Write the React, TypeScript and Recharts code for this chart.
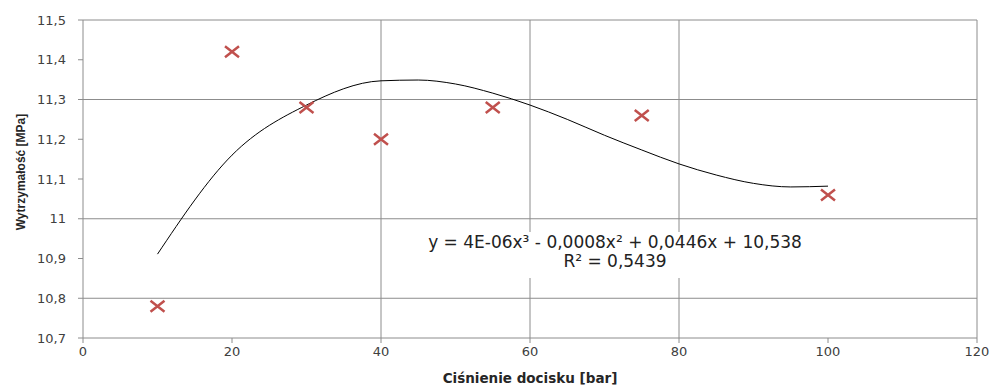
import { ComposedChart, Scatter, Line, XAxis, YAxis, ReferenceLine } from 'recharts';

// measured points (pressure [bar] vs strength [MPa])
const pressure = [10, 20, 30, 40, 55, 75, 100];
const strength = [10.78, 11.42, 11.28, 11.2, 11.28, 11.26, 11.06];

// trendline
const trendX = [10, 20, 30, 40, 45, 50, 55, 60, 65, 70, 75, 80, 85, 90, 95, 100];
const trendY = [10.911, 11.16, 11.286, 11.347, 11.349, 11.339, 11.316, 11.286, 11.25, 11.21, 11.173, 11.138, 11.11, 11.089, 11.08, 11.082];

const xTicks = [0, 20, 40, 60, 80, 100, 120];
const yTicks = [10.7, 10.8, 10.9, 11, 11.1, 11.2, 11.3, 11.4, 11.5];
const xGrid = [40, 60, 80, 120];
const yGrid = [10.8, 11, 11.3, 11.5];

const points = pressure.map((x, i) => ({ x, y: strength[i] }));
const trend = trendX.map((x, i) => ({ x, t: trendY[i] }));

const GRID = '#8c8c8c';
const FONT = '"DejaVu Sans", Verdana, sans-serif';

const fmt = (v: number) => String(v).replace('.', ',');

const Cross = (props: any) => {
  const { cx, cy } = props;
  if (cx == null || cy == null) return null;
  return (
    <path
      d={`M${cx - 7},${cy - 5.5}L${cx + 7},${cy + 5.5}M${cx - 7},${cy + 5.5}L${cx + 7},${cy - 5.5}`}
      stroke="#c0504d"
      strokeWidth={2.5}
      fill="none"
    />
  );
};

export default function App() {
  return (
    <div style={{ position: 'absolute', left: 0, top: 0, width: 991, height: 385, background: '#fff' }}>
      <ComposedChart width={991} height={385} margin={{ top: 20, right: 14, bottom: 0, left: 0 }}>
        <XAxis
          type="number"
          dataKey="x"
          domain={[0, 120]}
          ticks={xTicks}
          allowDataOverflow
          stroke={GRID}
          tickSize={5}
          tickMargin={4}
          height={47}
          tick={{ fill: '#404040', fontSize: 13, fontFamily: FONT }}
          label={{
            value: 'Ciśnienie docisku [bar]',
            position: 'insideBottom',
            offset: 2,
            fill: '#262626',
            fontSize: 13.5,
            fontWeight: 'bold',
            fontFamily: FONT,
          }}
        />
        <YAxis
          type="number"
          domain={[10.7, 11.5]}
          ticks={yTicks}
          allowDataOverflow
          stroke={GRID}
          tickSize={5}
          tickMargin={12}
          width={83}
          tickFormatter={fmt}
          tick={{ fill: '#404040', fontSize: 13, fontFamily: FONT }}
          label={{
            content: () => (
              <text
                x={25}
                y={172}
                transform="rotate(-90 25 172)"
                textAnchor="middle"
                fill="#262626"
                fontSize={12}
                fontWeight="bold"
                fontFamily='"Liberation Sans Narrow", "Liberation Sans", Arial, sans-serif'
              >
                Wytrzymałość [MPa]
              </text>
            ),
          }}
        />
        {yGrid.map((v) => (
          <ReferenceLine key={'h' + v} y={v} stroke={GRID} strokeWidth={1} />
        ))}
        {xGrid.map((v) => (
          <ReferenceLine key={'v' + v} x={v} stroke={GRID} strokeWidth={1} />
        ))}
        <Line
          data={trend}
          dataKey="t"
          type="monotone"
          stroke="#000"
          strokeWidth={1}
          dot={false}
          activeDot={false}
          isAnimationActive={false}
        />
        <Scatter data={points} dataKey="y" shape={<Cross />} isAnimationActive={false} />
      </ComposedChart>
      <div
        style={{
          position: 'absolute',
          left: 420,
          top: 232,
          width: 390,
          height: 46,
          background: '#fff',
          textAlign: 'center',
          fontFamily: FONT,
          fontSize: 17,
          lineHeight: '19px',
          color: '#222',
          paddingTop: 1,
          boxSizing: 'border-box',
        }}
      >
        <div>y = 4E-06x³ - 0,0008x² + 0,0446x + 10,538</div>
        <div>R² = 0,5439</div>
      </div>
    </div>
  );
}
